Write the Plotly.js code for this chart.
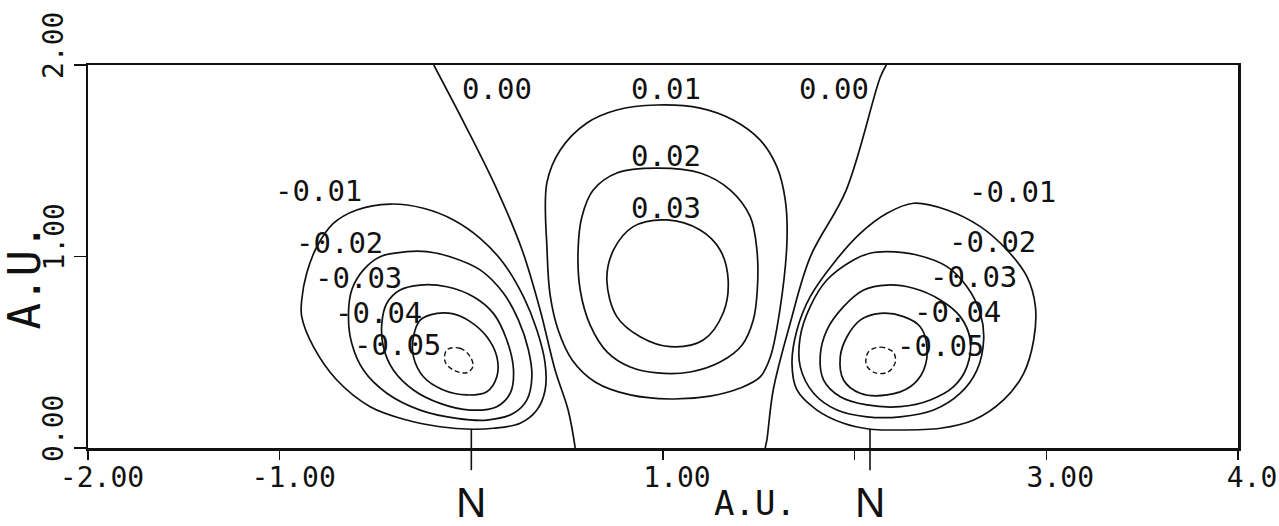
<!DOCTYPE html>
<html>
<head>
<meta charset="utf-8">
<script src="https://cdn.plot.ly/plotly-3.0.1.min.js"></script>
<style>
  html, body { margin: 0; padding: 0; background: #ffffff; }
  #chart { width: 1279px; height: 526px; }
</style>
</head>
<body>
<div id="chart"></div>
<script>
// Deformation density of N2 in a plane containing the bond axis (atomic units).
// Each contour line is stored as x / y arrays in axis units.

// 0.00 lines (left and right of the bond centre)
const zeroLeftX  = [-0.196, -0.027, 0.135, 0.265, 0.359, 0.437, 0.505, 0.542];
const zeroLeftY  = [2.000, 1.676, 1.347, 1.034, 0.721, 0.407, 0.198, 0.000];
const zeroRightX = [2.165, 2.134, 1.956, 1.768, 1.664, 1.575, 1.542, 1.533];
const zeroRightY = [2.000, 1.937, 1.347, 0.997, 0.653, 0.303, 0.042, 0.000];

// positive bond-region contours
const pos01X = [0.968, 0.759, 0.603, 0.464, 0.394, 0.395, 0.411, 0.453, 0.526, 0.646, 0.829, 1.038, 1.246, 1.403, 1.507, 1.560, 1.612, 1.647, 1.638, 1.594, 1.507, 1.366, 1.194, 0.968];
const pos01Y = [1.791, 1.765, 1.697, 1.556, 1.384, 1.034, 0.799, 0.616, 0.460, 0.345, 0.277, 0.256, 0.271, 0.313, 0.371, 0.475, 0.736, 1.086, 1.295, 1.469, 1.608, 1.713, 1.775, 1.791];
const pos02X = [0.968, 0.759, 0.636, 0.577, 0.557, 0.568, 0.620, 0.709, 0.829, 0.970, 1.142, 1.298, 1.413, 1.471, 1.492, 1.490, 1.455, 1.351, 1.194, 0.968];
const pos02Y = [1.461, 1.436, 1.347, 1.208, 1.034, 0.825, 0.642, 0.501, 0.423, 0.392, 0.397, 0.449, 0.538, 0.668, 0.825, 1.034, 1.208, 1.347, 1.436, 1.461];
const pos03X = [1.020, 0.845, 0.742, 0.707, 0.759, 0.881, 1.038, 1.210, 1.314, 1.340, 1.298, 1.194, 1.020];
const pos03Y = [1.191, 1.156, 1.034, 0.877, 0.686, 0.581, 0.529, 0.564, 0.705, 0.877, 1.034, 1.138, 1.191];

// negative lobe around the left nucleus
const negL01X = [-0.424, -0.250, -0.093, 0.046, 0.168, 0.272, 0.342, 0.385, 0.385, 0.342, 0.255, 0.115, 0.003, -0.163, -0.337, -0.528, -0.702, -0.824, -0.885, -0.885, -0.859, -0.806, -0.720, -0.598, -0.424];
const negL01Y = [1.274, 1.252, 1.191, 1.095, 0.965, 0.790, 0.616, 0.442, 0.303, 0.198, 0.129, 0.103, 0.098, 0.111, 0.146, 0.216, 0.355, 0.529, 0.686, 0.773, 0.912, 1.051, 1.173, 1.243, 1.274];
const negL02X = [-0.337, -0.232, -0.111, 0.046, 0.168, 0.246, 0.298, 0.316, 0.290, 0.220, 0.081, -0.076, -0.267, -0.441, -0.563, -0.624, -0.641, -0.624, -0.563, -0.476, -0.337];
const negL02Y = [1.025, 1.025, 0.999, 0.930, 0.808, 0.668, 0.512, 0.372, 0.251, 0.181, 0.146, 0.155, 0.198, 0.286, 0.407, 0.547, 0.686, 0.825, 0.930, 0.999, 1.025];
const negL03X = [-0.267, -0.128, 0.011, 0.115, 0.185, 0.220, 0.203, 0.133, -0.006, -0.163, -0.302, -0.407, -0.459, -0.467, -0.441, -0.372, -0.267];
const negL03Y = [0.851, 0.842, 0.790, 0.703, 0.564, 0.407, 0.286, 0.216, 0.198, 0.233, 0.303, 0.407, 0.529, 0.651, 0.756, 0.825, 0.851];
const negL04X = [-0.180, -0.093, -0.006, 0.081, 0.133, 0.133, 0.081, -0.024, -0.146, -0.250, -0.302, -0.302, -0.267, -0.180];
const negL04Y = [0.703, 0.700, 0.660, 0.581, 0.477, 0.372, 0.294, 0.277, 0.303, 0.372, 0.477, 0.581, 0.668, 0.703];
const negL05X = [-0.128, -0.059, -0.006, 0.008, -0.024, -0.093, -0.137, -0.128];
const negL05Y = [0.512, 0.521, 0.477, 0.425, 0.393, 0.407, 0.451, 0.512];

// negative lobe around the right nucleus
const negR01X = [2.307, 2.482, 2.656, 2.795, 2.899, 2.943, 2.934, 2.882, 2.777, 2.621, 2.447, 2.203, 2.081, 1.942, 1.803, 1.699, 1.673, 1.699, 1.768, 1.890, 2.029, 2.169, 2.307];
const negR01Y = [1.278, 1.243, 1.156, 1.034, 0.895, 0.738, 0.564, 0.390, 0.251, 0.146, 0.103, 0.094, 0.098, 0.129, 0.198, 0.303, 0.442, 0.616, 0.790, 0.965, 1.121, 1.226, 1.278];
const negR02X = [2.169, 2.325, 2.482, 2.586, 2.656, 2.673, 2.638, 2.551, 2.412, 2.238, 2.064, 1.908, 1.786, 1.716, 1.716, 1.768, 1.855, 1.994, 2.081, 2.169];
const negR02Y = [1.025, 1.008, 0.947, 0.842, 0.703, 0.564, 0.407, 0.286, 0.198, 0.163, 0.163, 0.198, 0.286, 0.425, 0.581, 0.738, 0.877, 0.982, 1.017, 1.025];
const negR03X = [2.169, 2.307, 2.447, 2.551, 2.603, 2.586, 2.516, 2.395, 2.238, 2.064, 1.925, 1.838, 1.820, 1.855, 1.942, 2.047, 2.169];
const negR03Y = [0.851, 0.834, 0.773, 0.686, 0.564, 0.425, 0.320, 0.251, 0.216, 0.225, 0.268, 0.355, 0.477, 0.616, 0.738, 0.825, 0.851];
const negR04X = [2.134, 2.255, 2.342, 2.377, 2.360, 2.290, 2.169, 2.029, 1.942, 1.925, 1.960, 2.029, 2.134];
const negR04Y = [0.703, 0.686, 0.633, 0.529, 0.407, 0.320, 0.277, 0.286, 0.355, 0.477, 0.581, 0.668, 0.703];
const negR05X = [2.071, 2.134, 2.201, 2.212, 2.175, 2.108, 2.061, 2.071];
const negR05Y = [0.501, 0.527, 0.501, 0.449, 0.397, 0.392, 0.433, 0.501];

// contour level labels and where they sit
const levelText = ['0.00', '0.01', '0.00', '0.02', '0.03',
                   '-0.01', '-0.02', '-0.03', '-0.04', '-0.05',
                   '-0.01', '-0.02', '-0.03', '-0.04', '-0.05'];
const levelX = [0.135, 1.017, 1.894, 1.017, 1.017,
                -0.800, -0.690, -0.591, -0.486, -0.387,
                2.823, 2.718, 2.619, 2.536, 2.447];
const levelY = [1.875, 1.875, 1.875, 1.525, 1.253,
                1.342, 1.071, 0.888, 0.705, 0.538,
                1.337, 1.076, 0.893, 0.710, 0.533];

// nuclei on the bond axis
const nucleiX = [0.0, 2.08];
const nucleiLabel = ['N', 'N'];

// axis ticks
const xTickVals = [-2, -1, 0, 1, 2, 3, 4];
const xTickText = ['-2.00', '-1.00', '', '1.00', '', '3.00', '4.0'];
const yTickVals = [0, 1, 2];
const yTickText = ['0.00', '1.00', '2.00'];
const axisTitle = 'A.U.';

const solidLines = [
  [zeroLeftX, zeroLeftY], [zeroRightX, zeroRightY],
  [pos01X, pos01Y], [pos02X, pos02Y], [pos03X, pos03Y],
  [negL01X, negL01Y], [negL02X, negL02Y], [negL03X, negL03Y], [negL04X, negL04Y],
  [negR01X, negR01Y], [negR02X, negR02Y], [negR03X, negR03Y], [negR04X, negR04Y]
];
const dashedLines = [[negL05X, negL05Y], [negR05X, negR05Y]];

const ink = '#111111';
const traces = [];
solidLines.forEach(([x, y]) => traces.push({
  type: 'scatter', mode: 'lines', x: x, y: y, hoverinfo: 'skip',
  line: { color: ink, width: 1.7, shape: 'spline', smoothing: 1 }
}));
dashedLines.forEach(([x, y]) => traces.push({
  type: 'scatter', mode: 'lines', x: x, y: y, hoverinfo: 'skip',
  line: { color: ink, width: 1.4, shape: 'spline', smoothing: 1, dash: '5px,3px' }
}));

const monoFont = 'DejaVu Sans Mono, Liberation Mono, monospace';
const annotations = [];
levelText.forEach((t, i) => annotations.push({
  xref: 'x', yref: 'y', x: levelX[i], y: levelY[i], text: t, showarrow: false,
  xanchor: 'center', yanchor: 'middle',
  font: { family: monoFont, size: 29, color: ink }
}));
// y tick labels: written upward, starting just below each tick
yTickVals.forEach((v, i) => annotations.push({
  xref: 'paper', yref: 'y', x: -0.030, y: v, text: yTickText[i], showarrow: false,
  xanchor: 'center', yanchor: 'bottom', yshift: -16, textangle: -90,
  font: { family: monoFont, size: 28, color: ink }
}));
nucleiX.forEach((nx, i) => annotations.push({
  xref: 'x', yref: 'paper', x: nx, y: -0.141, text: nucleiLabel[i], showarrow: false,
  xanchor: 'center', yanchor: 'middle',
  font: { family: 'Liberation Sans, DejaVu Sans, sans-serif', size: 42, color: ink }
}));
annotations.push({
  xref: 'paper', yref: 'paper', x: 0.58, y: -0.143, text: axisTitle, showarrow: false,
  xanchor: 'center', yanchor: 'middle',
  font: { family: monoFont, size: 34, color: ink }
});
annotations.push({
  xref: 'paper', yref: 'paper', x: -0.055, y: 0.447, text: axisTitle, showarrow: false,
  xanchor: 'center', yanchor: 'middle',
  textangle: -90, font: { family: monoFont, size: 44, color: ink }
});

// nucleus position markers crossing the bottom axis
const shapes = nucleiX.map(nx => ({
  type: 'line', xref: 'x', yref: 'paper', x0: nx, x1: nx, y0: -0.058, y1: 0.05,
  line: { color: ink, width: 1.6 }
}));

const layout = {
  width: 1279, height: 526,
  margin: { l: 88, r: 41, t: 65, b: 78, pad: 0 },
  paper_bgcolor: '#ffffff', plot_bgcolor: '#ffffff',
  showlegend: false,
  xaxis: {
    range: [-2, 4], tickmode: 'array', tickvals: xTickVals, ticktext: xTickText,
    ticks: 'outside', ticklen: 9, tickwidth: 1.5, tickcolor: ink,
    showline: true, linecolor: ink, linewidth: 2.5, mirror: true,
    showgrid: false, zeroline: false, ticklabelshift: 14, ticklabelstandoff: -6,
    ticklabeloverflow: 'allow',
    tickfont: { family: monoFont, size: 28, color: ink }
  },
  yaxis: {
    range: [0, 2], tickmode: 'array', tickvals: yTickVals,
    ticks: 'outside', ticklen: 12, tickwidth: 1.5, tickcolor: ink,
    showticklabels: false,
    showline: true, linecolor: ink, linewidth: 2.5, mirror: true,
    showgrid: false, zeroline: false
  },
  annotations: annotations,
  shapes: shapes
};

Plotly.newPlot('chart', traces, layout, { displayModeBar: false, staticPlot: true });
</script>
</body>
</html>
